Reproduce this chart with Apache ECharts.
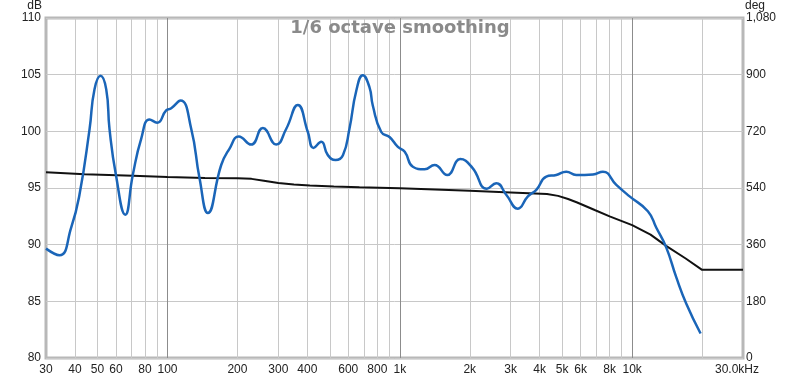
<!DOCTYPE html>
<html>
<head>
<meta charset="utf-8">
<script src="https://cdn.jsdelivr.net/npm/echarts@6/dist/echarts.min.js"></script>
<style>html,body{margin:0;padding:0;background:#fff;}#c{width:800px;height:380px;}</style>
</head>
<body>
<div id="c"></div>
<script>
// Frequency response (Hz, dB)
const splFreq = [30,34.3,38.5,41.8,46.2,48.5,51.5,54.5,56.3,60,65.8,70.9,77.1,83.7,90.3,98.7,103.8,113.8,126.5,137.4,149.2,170.3,185,202.8,229.3,257.3,293.8,324.6,364,402,425,459,490,529,569,607,650,693,740,765,832,903,981,1050,1138,1278,1411,1600,1820,2050,2369,2601,2871,3222,3558,3868,4270,4713,5203,5746,6780,7482,8548,9751,11685,12708,14028,15492,17104,19706];
const splDb = [89.65,89.07,91.5,94.4,100.2,103.7,104.9,103.7,100.2,96.15,92.65,96.15,99.36,101.05,100.76,101.84,102.04,102.71,100.23,95.86,92.8,97.03,98.48,99.55,98.83,100.29,98.83,100.23,102.33,99.94,98.54,99.07,97.9,97.47,97.9,100.23,103.6,104.95,103.9,102.28,99.94,99.5,98.63,98.2,96.88,96.65,97.03,96.15,97.55,96.8,94.93,95.42,94.41,93.18,94.26,94.84,96.0,96.15,96.44,96.15,96.2,96.44,95.28,94.26,92.95,91.49,89.74,87.11,84.79,82.16];
// Phase (Hz, deg)
const phaseFreq = [30,44,71,100,145,200,230,260,300,350,410,520,670,1000,2000,3000,4300,4800,5300,5800,6900,8000,10000,12000,14000,17000,20000,30000];
const phaseDeg = [590,584,579,575,572,571,569,563,556,551,548,545,542,539,531,526,521,515,505,494,470,450,422,392,356,316,280,280];
// Axis ticks
const minorGridFreq = [40,50,60,70,80,90,200,300,400,500,600,700,800,900,2000,3000,4000,5000,6000,7000,8000,9000,20000];
const majorGridFreq = [100,1000,10000];
const xLabelFreq = [30,40,50,60,80,100,200,300,400,600,800,1000,2000,3000,4000,5000,6000,8000,10000,30000];
const xLabelText = ['30','40','50','60','80','100','200','300','400','600','800','1k','2k','3k','4k','5k','6k','8k','10k','30.0kHz'];
const dbMin = 80, dbMax = 110, dbStep = 5;
const degMin = 0, degMax = 1080, degStep = 180;

const lg = Math.log10;
const font = 'Liberation Sans';
const chart = echarts.init(document.getElementById('c'));
const xBase = {
  type: 'value', min: lg(30), max: lg(30000), gridIndex: 0,
  axisLine: {show: false}
};
chart.setOption({
  animation: false,
  backgroundColor: '#fff',
  title: {
    text: '1/6 octave smoothing', left: 'center', top: 14,
    textStyle: {fontFamily: 'DejaVu Sans', fontWeight: 'bold', fontSize: 18, color: '#8a8a8a'}
  },
  grid: {left: 46, right: 57, top: 15, bottom: 22, show: true, borderColor: '#b8b8b8', borderWidth: 3},
  xAxis: [
    Object.assign({}, xBase, {
      position: 'bottom',
      axisTick: {show: false, customValues: minorGridFreq.map(lg)},
      splitLine: {show: true, lineStyle: {color: '#c8c8c8', width: 1}},
      axisLabel: {
        customValues: xLabelFreq.map(lg), margin: 6,
        fontFamily: font, fontSize: 12, color: '#222',
        formatter: function (v) {
          let best = 0, bd = 1e9;
          for (let i = 0; i < xLabelFreq.length; i++) {
            const d = Math.abs(lg(xLabelFreq[i]) - v);
            if (d < bd) { bd = d; best = i; }
          }
          return best === xLabelFreq.length - 1 ? '{r|' + xLabelText[best] + '}' : xLabelText[best];
        },
        rich: {r: {fontFamily: font, fontSize: 12, color: '#222', padding: [0, 12, 0, 0]}}
      }
    }),
    Object.assign({}, xBase, {
      position: 'top',
      axisTick: {show: false, customValues: majorGridFreq.map(lg)},
      splitLine: {show: true, lineStyle: {color: '#8c8c8c', width: 1}},
      axisLabel: {show: false}
    })
  ],
  yAxis: [
    {
      type: 'value', min: dbMin, max: dbMax, interval: dbStep, position: 'left',
      name: 'dB', nameLocation: 'end', nameGap: 6,
      nameTextStyle: {fontFamily: font, fontSize: 12, color: '#222', align: 'right', padding: [0, 4, 0, 0]},
      axisLine: {show: false}, axisTick: {show: false},
      axisLabel: {fontFamily: font, fontSize: 12, color: '#222', margin: 5},
      splitLine: {show: true, lineStyle: {color: '#c8c8c8', width: 1}}
    },
    {
      type: 'value', min: degMin, max: degMax, interval: degStep, position: 'right',
      name: 'deg', nameLocation: 'end', nameGap: 6,
      nameTextStyle: {fontFamily: font, fontSize: 12, color: '#222', align: 'left', padding: [0, 0, 0, 2]},
      axisLine: {show: false}, axisTick: {show: false},
      axisLabel: {fontFamily: font, fontSize: 12, color: '#222', margin: 3,
        formatter: function (v) { return v.toLocaleString('en-US'); }},
      splitLine: {show: false}
    }
  ],
  series: [
    {
      type: 'line', xAxisIndex: 0, yAxisIndex: 1, symbol: 'none', smooth: false,
      lineStyle: {color: '#111', width: 2},
      data: phaseFreq.map((f, i) => [lg(f), phaseDeg[i]]), z: 3
    },
    {
      type: 'line', xAxisIndex: 0, yAxisIndex: 0, symbol: 'none', smooth: 0.5,
      lineStyle: {color: '#1a65b8', width: 2.5},
      data: splFreq.map((f, i) => [lg(f), splDb[i]]), z: 4
    }
  ]
});
</script>
</body>
</html>
